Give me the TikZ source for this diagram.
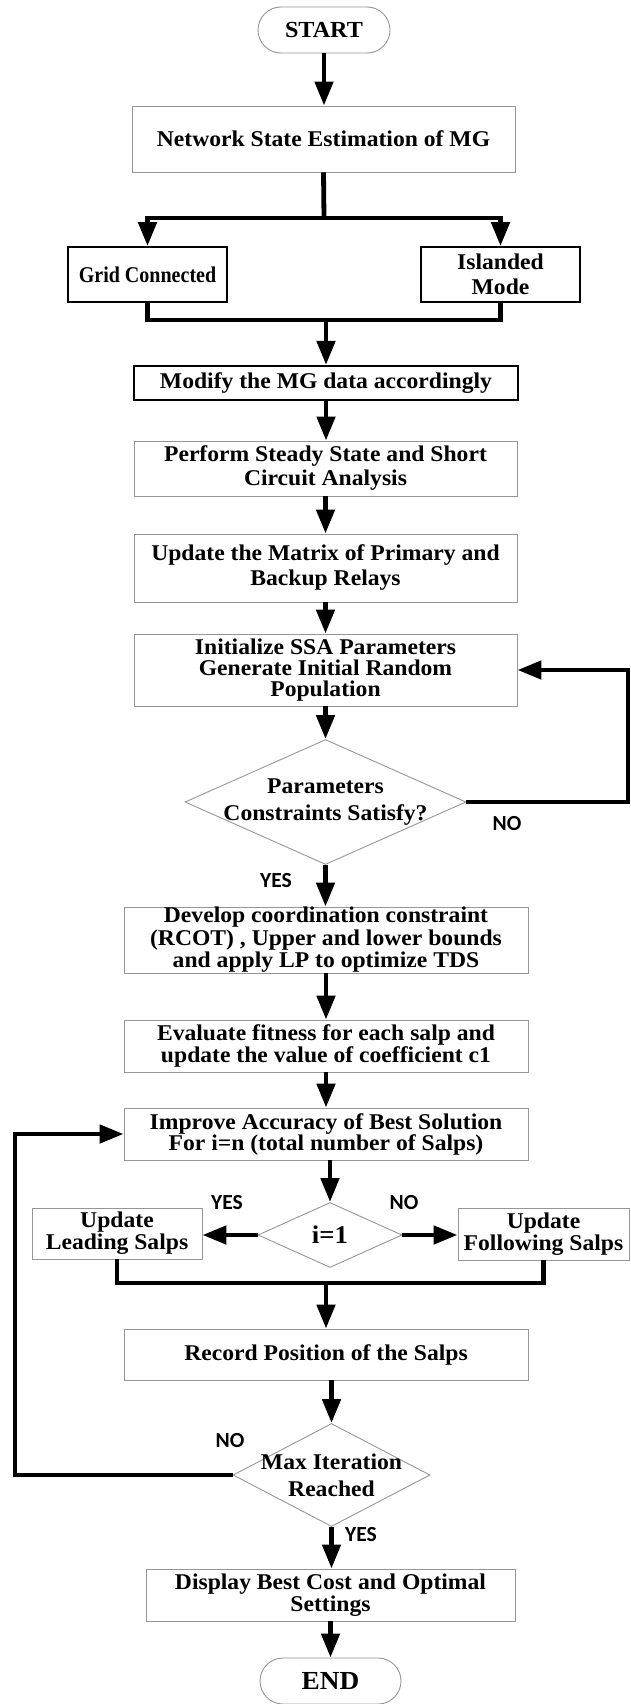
\documentclass[tikz,border=0pt]{standalone}
\usepackage{fontspec}
\setmainfont{Liberation Serif}[FakeStretch=1.05]
\newfontfamily\condf{Liberation Serif}[FakeStretch=0.89]
\newfontfamily\labf{Carlito}
\usetikzlibrary{arrows.meta,shapes.geometric}
\definecolor{bordgray}{RGB}{150,150,150}
\tikzset{
  box/.style={draw=bordgray, line width=0.9pt, fill=white, rectangle, inner sep=0pt, align=center, font=\bfseries\fontsize{22.5}{22.5}\selectfont},
  darkbox/.style={box, draw=black, line width=2pt},
  term/.style={box, rounded corners=23pt},
  dia/.style={draw=bordgray, line width=0.9pt, diamond, inner sep=0pt, fill=white},
  diatext/.style={align=center, inner sep=0pt, font=\bfseries\fontsize{22.5}{27}\selectfont},
  conn/.style={line width=4.8pt},
  arr/.style={conn, -{Triangle[width=18pt,length=24pt]}},
  lbl/.style={font=\labf\bfseries\fontsize{21.5}{21.5}\selectfont, inner sep=0pt},
}
\begin{document}
\begin{tikzpicture}[x=1pt,y=-1pt]
\fill[white] (0,0) rectangle (631,1704);
\useasboundingbox (0,0) rectangle (631,1704);

\node[term, minimum width=132pt, minimum height=46pt, font=\bfseries\fontsize{23}{23}\selectfont] (start) at (324,30) {START};
\node[box, minimum width=383pt, minimum height=66pt] (net) at (323.5,139) {Network State Estimation of MG};
\node[darkbox, line width=1.8pt, minimum width=159pt, minimum height=55pt, font=\condf\bfseries\fontsize{22.5}{22.5}\selectfont] (grid) at (147.5,274.5) {Grid Connected};
\node[darkbox, line width=1.8pt, minimum width=159pt, minimum height=55pt, font=\bfseries\fontsize{22.5}{25}\selectfont] (isl) at (500.5,274.5) {Islanded\\Mode};
\node[darkbox, line width=2.2pt, minimum width=384pt, minimum height=34pt] (mod) at (326,383) {Modify the MG data accordingly};
\node[box, minimum width=383pt, minimum height=55pt, font=\bfseries\fontsize{22.5}{24}\selectfont] (perf) at (325.5,468.5) {Perform Steady State and Short\\Circuit Analysis};
\node[box, minimum width=383pt, minimum height=68pt, font=\bfseries\fontsize{22.5}{25}\selectfont] (mat) at (325.5,568) {Update the Matrix of Primary and\\Backup Relays};
\node[box, minimum width=383pt, minimum height=72pt, font=\bfseries\fontsize{22.5}{21}\selectfont] (init) at (325.5,670) {Initialize SSA Parameters\\Generate Initial Random\\Population};
\node[dia, minimum width=281pt, minimum height=125pt] (d1) at (325.5,802) {};
\node[diatext] (d1t) at (d1) {Parameters\\Constraints Satisfy?};
\node[box, minimum width=404pt, minimum height=66pt] (dev) at (326,940) {Develop coordination constraint\\(RCOT) , Upper and lower bounds\\and apply LP to optimize TDS};
\node[box, minimum width=404pt, minimum height=52pt, font=\bfseries\fontsize{22.5}{20.5}\selectfont] (eval) at (326,1046) {Evaluate fitness for each salp and\\update the value of coefficient c1};
\node[box, minimum width=404pt, minimum height=52pt, font=\bfseries\fontsize{22.5}{21}\selectfont] (imp) at (326,1134) {Improve Accuracy of Best Solution\\For i=n (total number of Salps)};
\node[dia, minimum width=144pt, minimum height=65pt] (d2) at (330,1235) {};
\node[diatext, font=\bfseries\fontsize{25.5}{25.5}\selectfont] (d2t) at (d2) {i=1};
\node[box, minimum width=170pt, minimum height=51pt, font=\bfseries\fontsize{22.5}{22}\selectfont] (lead) at (117,1233.5) {Update\\Leading Salps};
\node[box, minimum width=171pt, minimum height=52pt, font=\bfseries\fontsize{22.5}{22}\selectfont] (foll) at (543.5,1234) {Update\\Following Salps};
\node[box, minimum width=404pt, minimum height=51pt] (rec) at (326,1354.5) {Record Position of the Salps};
\node[dia, minimum width=197pt, minimum height=103pt] (d3) at (331.5,1475) {};
\node[diatext] (d3t) at (d3) {Max Iteration\\Reached};
\node[box, minimum width=369pt, minimum height=52pt, font=\bfseries\fontsize{22.5}{22}\selectfont] (disp) at (330.5,1595) {Display Best Cost and Optimal\\Settings};
\node[term, minimum width=141pt, minimum height=46pt, font=\bfseries\fontsize{26}{26}\selectfont] (end) at (330.5,1681) {END};

\node[lbl] (no1) at (507,824) {NO};
\node[lbl] (yes1) at (276,881) {YES};
\node[lbl] (yes2) at (227,1203) {YES};
\node[lbl] (no2) at (404,1203) {NO};
\node[lbl] (no3) at (230,1441) {NO};
\node[lbl] (yes3) at (361,1535) {YES};

\coordinate (br) at (324,218);
\coordinate (j1) at (326,320);
\coordinate (rx) at (628,802);
\coordinate (j2) at (326,1283);
\coordinate (lx) at (15,1475);

\draw[arr] (start.south) -- (start.south |- net.north);
\draw[conn] (net.south) -- (br);
\draw[arr] (br) -| (grid.north);
\draw[arr] (br) -| (isl.north);
\draw[conn] (grid.south) |- (j1) -| (isl.south);
\draw[arr] (j1) -- (j1 |- mod.north);
\draw[arr] (mod.south) -- (mod.south |- perf.north);
\draw[arr] (perf.south) -- (perf.south |- mat.north);
\draw[arr] (mat.south) -- (mat.south |- init.north);
\draw[arr] (init.south) -- (init.south |- d1.north);
\draw[arr] (d1.east) -- (rx) |- (init.east);
\draw[arr] (d1.south) -- (d1.south |- dev.north);
\draw[arr] (dev.south) -- (dev.south |- eval.north);
\draw[arr] (eval.south) -- (eval.south |- imp.north);
\draw[arr] (imp.south -| d2.north) -- (d2.north);
\draw[arr] (d2.west) -- (d2.west -| lead.east);
\draw[arr] (d2.east) -- (d2.east -| foll.west);
\draw[conn] (lead.south) |- (j2) -| (foll.south);
\draw[arr] (j2) -- (j2 |- rec.north);
\draw[arr] (rec.south -| d3.north) -- (d3.north);
\draw[arr] (d3.west) -- (lx) |- (imp.west);
\draw[arr] (d3.south) -- (d3.south |- disp.north);
\draw[arr] (disp.south -| end.north) -- (end.north);
\end{tikzpicture}
\end{document}
